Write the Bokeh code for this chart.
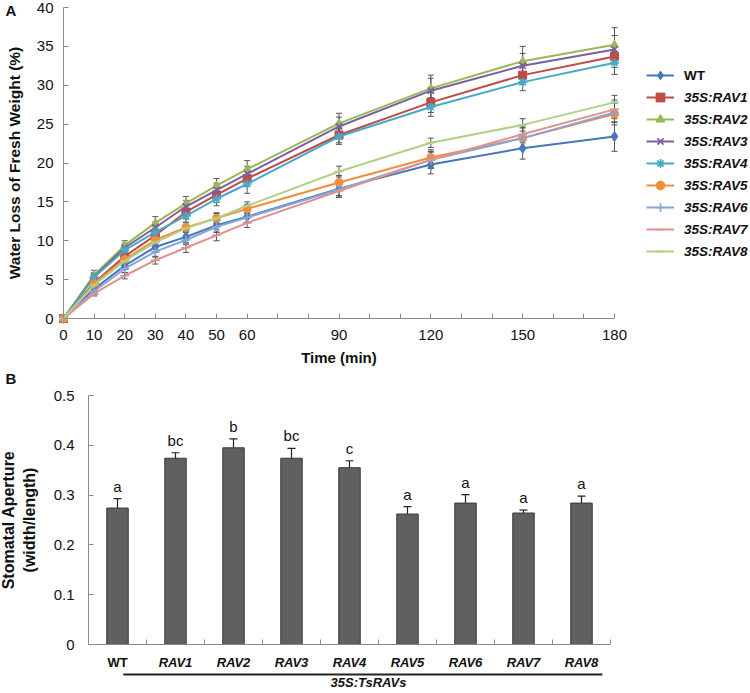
from bokeh.plotting import figure
from bokeh.models import (ColumnDataSource, Range1d, FixedTicker, Whisker, TeeHead,
                          Legend, LegendItem, Label, LabelSet, Arrow)
from bokeh.embed import file_html
from bokeh.resources import INLINE
from bokeh.core.properties import value

FONT = "Liberation Sans"

# ---------------- Panel A data ----------------
time_min = [0, 10, 20, 30, 40, 50, 60, 90, 120, 150, 180]
tick_times = list(range(0, 181, 10))
labeled_times = [0, 10, 20, 30, 40, 50, 60, 90, 120, 150, 180]
loss_ticks = list(range(0, 41, 5))

series_names = ["WT", "35S:RAV1", "35S:RAV2", "35S:RAV3", "35S:RAV4",
                "35S:RAV5", "35S:RAV6", "35S:RAV7", "35S:RAV8"]
wt   = [0, 3.8, 6.8, 9.2, 10.5, 12.0, 13.1, 16.7, 19.8, 21.9, 23.4]
rav1 = [0, 4.6, 8.0, 10.7, 13.7, 15.9, 18.0, 23.6, 27.8, 31.3, 33.7]
rav2 = [0, 5.6, 9.4, 12.3, 14.8, 17.1, 19.2, 25.1, 29.6, 33.1, 35.2]
rav3 = [0, 5.4, 9.1, 11.7, 14.4, 16.5, 18.6, 24.7, 29.3, 32.5, 34.6]
rav4 = [0, 5.3, 8.8, 11.1, 13.2, 15.4, 17.3, 23.4, 27.2, 30.4, 32.9]
rav5 = [0, 4.5, 7.6, 10.1, 11.7, 12.9, 14.1, 17.5, 20.7, 23.2, 26.3]
rav6 = [0, 3.5, 6.4, 8.6, 10.1, 11.8, 13.0, 16.6, 20.4, 23.2, 26.5]
rav7 = [0, 3.2, 5.5, 7.5, 9.1, 10.7, 12.3, 16.4, 20.4, 23.7, 26.9]
rav8 = [0, 4.3, 7.4, 9.8, 11.6, 12.9, 14.5, 18.9, 22.6, 24.9, 27.8]

wt_err   = [0, 0.4, 0.5, 0.7, 0.7, 0.9, 0.8, 0.9, 1.2, 1.4, 1.9]
rav1_err = [0, 0.5, 0.6, 0.8, 0.9, 1.0, 1.0, 1.0, 1.3, 1.2, 1.4]
rav2_err = [0, 0.6, 0.6, 0.8, 0.9, 0.9, 1.1, 1.3, 1.7, 1.9, 2.2]
rav3_err = [0, 0.5, 0.6, 0.7, 0.8, 0.9, 1.0, 1.2, 1.6, 1.6, 1.8]
rav4_err = [0, 0.5, 0.6, 0.7, 0.8, 0.9, 1.2, 1.0, 1.2, 1.1, 1.5]
rav5_err = [0, 0.5, 0.5, 0.6, 0.6, 0.7, 0.6, 0.9, 1.0, 1.4, 1.4]
rav6_err = [0, 0.4, 0.5, 0.7, 0.6, 0.7, 0.6, 1.0, 1.1, 1.3, 1.3]
rav7_err = [0, 0.3, 0.4, 0.5, 0.6, 0.7, 0.6, 0.8, 1.0, 1.1, 1.2]
rav8_err = [0, 0.4, 0.4, 0.5, 0.5, 0.6, 0.5, 0.7, 0.6, 0.8, 0.9]

series_values = [wt, rav1, rav2, rav3, rav4, rav5, rav6, rav7, rav8]
series_errors = [wt_err, rav1_err, rav2_err, rav3_err, rav4_err,
                 rav5_err, rav6_err, rav7_err, rav8_err]
series_colors = ["#4677b8", "#be4b48", "#98b954", "#7d5fa0", "#46aac5",
                 "#f28e3c", "#86a5d8", "#e0908d", "#aed088"]
series_markers = ["diamond", "square", "triangle", "x", "asterisk",
                  "circle", "cross", "dash", "dash"]

# ---------------- Panel B data ----------------
groups = ["WT", "RAV1", "RAV2", "RAV3", "RAV4", "RAV5", "RAV6", "RAV7", "RAV8"]
group_styles = ["bold"] + ["bold italic"] * 8
aperture = [0.274, 0.374, 0.395, 0.374, 0.355, 0.262, 0.284, 0.264, 0.284]
aperture_err = [0.019, 0.011, 0.018, 0.020, 0.014, 0.015, 0.017, 0.006, 0.014]
letters = ["a", "bc", "b", "bc", "c", "a", "a", "a", "a"]
aperture_ticks = [0, 0.1, 0.2, 0.3, 0.4, 0.5]
group_caption = "35S:TsRAVs"
bracket_range = (0.6, 8.86)          # categories spanned by the 35S:TsRAVs line

AXIS_COLOR = "#8a8a8a"
TEXT_COLOR = "#111111"
W = 750

# ---------------- layout constants (pixels) ----------------
A_H = 368
A_X0, A_PX_X = 63, 551 / 180        # page x of t=0, px per minute
A_Y0, A_PX_Y = 318, 311 / 40        # page y of 0 %, px per %
B_H = 323
B_TOP = A_H
B_X0, B_PX_X = 88, 58               # page x of left axis, px per category
B_Y0, B_PX_Y = 644, 498             # page y of 0, px per unit


def style_axis(ax, size="15px"):
    ax.axis_line_color = AXIS_COLOR
    ax.major_tick_line_color = AXIS_COLOR
    ax.minor_tick_line_color = AXIS_COLOR
    ax.major_tick_in = 5
    ax.major_tick_out = 0
    ax.minor_tick_in = 5
    ax.minor_tick_out = 0
    ax.major_label_text_font = FONT
    ax.major_label_text_font_size = size
    ax.major_label_text_color = TEXT_COLOR
    ax.axis_label_text_font = FONT
    ax.axis_label_text_font_size = "15px"
    ax.axis_label_text_font_style = "bold"
    ax.axis_label_text_color = TEXT_COLOR


# ================= Panel A =================
pA = figure(width=W, height=A_H, output_backend="svg", toolbar_location=None,
            x_range=Range1d(-A_X0 / A_PX_X, (W - A_X0) / A_PX_X),
            y_range=Range1d(-(A_H - A_Y0) / A_PX_Y, A_Y0 / A_PX_Y),
            min_border=0)
pA.outline_line_color = None
pA.grid.grid_line_color = None

renderers = []
for name, vals, errs, col, mk in zip(series_names, series_values, series_errors,
                                     series_colors, series_markers):
    src = ColumnDataSource(dict(x=time_min, y=vals,
                                upper=[v + e for v, e in zip(vals, errs)],
                                lower=[v - e for v, e in zip(vals, errs)]))
    pA.add_layout(Whisker(base="x", upper="upper", lower="lower", source=src,
                          line_color="#555555", line_width=1,
                          upper_head=TeeHead(size=6, line_color="#555555", line_width=1),
                          lower_head=TeeHead(size=6, line_color="#555555", line_width=1)))
    lr = pA.line("x", "y", source=src, line_color=col, line_width=2)
    if mk in ("x", "asterisk", "cross", "dash"):
        sr = pA.scatter("x", "y", source=src, marker=mk, size=9, line_color=col,
                        line_width=1.6)
    else:
        sr = pA.scatter("x", "y", source=src, marker=mk,
                        size=10 if mk == "diamond" else 8,
                        fill_color=col, line_color=col)
    renderers.append((name, lr, sr))

xa = pA.xaxis[0]
xa.fixed_location = 0
xa.bounds = (0, 180)
xa.ticker = FixedTicker(ticks=labeled_times,
                        minor_ticks=[t for t in tick_times if t not in labeled_times])
xa.axis_label = "Time (min)"
style_axis(xa)
xa.major_label_standoff = 11
xa.axis_label_standoff = 6

ya = pA.yaxis[0]
ya.fixed_location = 0
ya.bounds = (0, 40)
ya.ticker = FixedTicker(ticks=loss_ticks, minor_ticks=[])
ya.axis_label = "Water Loss of Fresh Weight (%)"
style_axis(ya)
ya.axis_label_text_font_size = "15.5px"
ya.major_label_standoff = 10
ya.axis_label_standoff = 11


def make_legend(items, style, loc):
    return Legend(items=items, location=loc, label_text_font=FONT,
                  label_text_font_size="13.5px", label_text_font_style=style,
                  label_text_color=TEXT_COLOR, glyph_width=28, glyph_height=22,
                  label_height=22, spacing=0, padding=0, margin=0,
                  border_line_color=None, background_fill_alpha=0,
                  label_standoff=10)


items = [LegendItem(label=n, renderers=[l, s]) for n, l, s in renderers]
pA.add_layout(make_legend(items[:1], "bold", (646, A_H - 86)))
pA.add_layout(make_legend(items[1:], "bold italic", (646, A_H - 262)))

pA.add_layout(Label(x=(5 - A_X0) / A_PX_X, y=(A_Y0 - 10) / A_PX_Y, text="A",
                    text_font=FONT, text_font_size="15px", text_font_style="bold",
                    text_color=TEXT_COLOR, text_baseline="middle", text_align="left"))

# ================= Panel B =================
centers = [i + 0.5 for i in range(len(groups))]
boundaries = list(range(len(groups) + 1))
yb0 = B_Y0 - B_TOP

pB = figure(width=W, height=B_H, output_backend="svg", toolbar_location=None,
            x_range=Range1d(-B_X0 / B_PX_X, (W - B_X0) / B_PX_X),
            y_range=Range1d(-(B_H - yb0) / B_PX_Y, yb0 / B_PX_Y),
            min_border=0)
pB.outline_line_color = None
pB.grid.grid_line_color = None

srcB = ColumnDataSource(dict(x=centers, top=aperture,
                             upper=[v + e for v, e in zip(aperture, aperture_err)],
                             lower=[v - e for v, e in zip(aperture, aperture_err)],
                             letter=letters, group=groups, gstyle=group_styles,
                             base=[0] * len(groups)))
pB.vbar(x="x", top="top", bottom=0, width=0.37, source=srcB,
        fill_color="#606060", line_color="#3a3a3a", line_width=1)
pB.add_layout(Whisker(base="x", upper="upper", lower="lower", source=srcB,
                      line_color="#222222", line_width=1.2,
                      upper_head=TeeHead(size=8, line_color="#222222", line_width=1.2),
                      lower_head=TeeHead(size=8, line_color="#222222", line_width=1.2)))
pB.add_layout(LabelSet(x="x", y="upper", text="letter", source=srcB, y_offset=4,
                       text_align="center", text_baseline="bottom",
                       text_font=value(FONT), text_font_size="15px",
                       text_color=TEXT_COLOR))
# category labels under the axis
pB.add_layout(LabelSet(x="x", y="base", text="group", source=srcB, y_offset=-10,
                       text_align="center", text_baseline="top",
                       text_font=value(FONT), text_font_size="13px",
                       text_font_style="gstyle", text_color=TEXT_COLOR))

xb = pB.xaxis[0]
xb.fixed_location = 0
xb.bounds = (0, len(groups))
xb.ticker = FixedTicker(ticks=[], minor_ticks=boundaries)
style_axis(xb)

yb = pB.yaxis[0]
yb.fixed_location = 0
yb.bounds = (0, 0.5)
yb.ticker = FixedTicker(ticks=aperture_ticks, minor_ticks=[])
yb.major_label_overrides = {0: "0"}
yb.axis_label = "Stomatal Aperture\n(width/length)"
style_axis(yb)
yb.axis_label_text_font_size = "16px"
yb.major_label_standoff = 14
yb.axis_label_standoff = 13

line_y = -(674 - B_Y0) / B_PX_Y
pB.add_layout(Arrow(end=None, x_start=bracket_range[0], y_start=line_y,
                    x_end=bracket_range[1], y_end=line_y,
                    line_color="#222222", line_width=2))
pB.add_layout(Label(x=(368 - B_X0) / B_PX_X, y=-(682 - B_Y0) / B_PX_Y,
                    text=group_caption, text_font=FONT, text_font_size="13px",
                    text_font_style="bold italic", text_color=TEXT_COLOR,
                    text_align="center", text_baseline="middle"))
pB.add_layout(Label(x=(5 - B_X0) / B_PX_X, y=(B_Y0 - 378) / B_PX_Y, text="B",
                    text_font=FONT, text_font_size="15px", text_font_style="bold",
                    text_color=TEXT_COLOR, text_baseline="middle", text_align="left"))

open("out.html", "w").write(file_html([pA, pB], INLINE))
